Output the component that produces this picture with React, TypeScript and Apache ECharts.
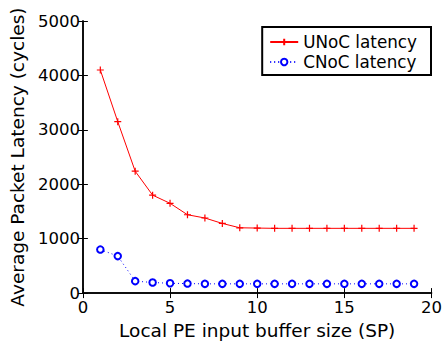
import React, { useEffect, useRef } from "react";
import * as echarts from "echarts";

const bufferSizes = [1, 2, 3, 4, 5, 6, 7, 8, 9, 10, 11, 12, 13, 14, 15, 16, 17, 18, 19];
const unocLatency = [4100, 3150, 2240, 1800, 1650, 1440, 1380, 1280, 1200, 1195, 1190, 1190, 1190, 1190, 1190, 1190, 1190, 1190, 1190];
const cnocLatency = [800, 680, 220, 195, 180, 175, 170, 170, 170, 170, 170, 170, 170, 170, 170, 170, 170, 170, 170];
const seriesNames = ["UNoC latency", "CNoC latency"];

const FONT = "'DejaVu Sans', 'Liberation Sans', Arial, sans-serif";

export default function App() {
  const ref = useRef<HTMLDivElement>(null);
  useEffect(() => {
    if (!ref.current) return;
    const chart = echarts.init(ref.current, undefined, { renderer: "svg" });
    const tickStyle = { show: true, inside: true, length: 5, lineStyle: { color: "#000", width: 1 } };
    const axisLine = { show: true, lineStyle: { color: "#000", width: 1.5 } };
    chart.setOption({
      animation: false,
      backgroundColor: "#fff",
      textStyle: { fontFamily: FONT },
      grid: { left: 82, right: 12, top: 21, bottom: 45, containLabel: false },
      legend: {
        orient: "vertical",
        right: 14,
        top: 27,
        backgroundColor: "#fff",
        borderColor: "#000",
        borderWidth: 2,
        borderRadius: 0,
        padding: [5, 14, 3, 7],
        itemGap: 0,
        itemWidth: 28,
        itemHeight: 8,
        textStyle: { fontSize: 16.8, lineHeight: 20, color: "#000", fontFamily: FONT },
        data: seriesNames,
      },
      xAxis: [
        {
          type: "value",
          min: 0,
          max: 20,
          interval: 5,
          name: "Local PE input buffer size (SP)",
          nameLocation: "middle",
          nameGap: 22,
          nameTextStyle: { fontSize: 18.5, color: "#000", fontFamily: FONT },
          axisLine,
          axisTick: tickStyle,
          axisLabel: { fontSize: 16.5, color: "#000", margin: 6, fontFamily: FONT, formatter: (v: number) => String(v) },
          splitLine: { show: false },
        },
        {
          type: "value",
          position: "top",
          min: 0,
          max: 20,
          interval: 5,
          axisLine,
          axisTick: tickStyle,
          axisLabel: { show: false },
          splitLine: { show: false },
        },
      ],
      yAxis: [
        {
          type: "value",
          min: 0,
          max: 5000,
          interval: 1000,
          name: "Average Packet Latency (cycles)",
          nameLocation: "middle",
          nameGap: 53,
          nameRotate: 90,
          nameTextStyle: { fontSize: 18.5, color: "#000", fontFamily: FONT },
          axisLine,
          axisTick: tickStyle,
          axisLabel: { fontSize: 16.5, color: "#000", margin: 3, fontFamily: FONT, formatter: (v: number) => String(v) },
          splitLine: { show: false },
        },
        {
          type: "value",
          position: "right",
          min: 0,
          max: 5000,
          interval: 1000,
          axisLine,
          axisTick: tickStyle,
          axisLabel: { show: false },
          splitLine: { show: false },
        },
      ],
      series: [
        {
          name: seriesNames[0],
          type: "line",
          data: bufferSizes.map((x, i) => [x, unocLatency[i]]),
          symbol: "path://M5,0L5,10M0,5L10,5",
          symbolSize: 7,
          showAllSymbol: true,
          lineStyle: { color: "#ff0000", width: 1 },
          itemStyle: { color: "none", borderColor: "#ff0000", borderWidth: 1.2 },
          z: 3,
        },
        {
          name: seriesNames[1],
          type: "line",
          data: bufferSizes.map((x, i) => [x, cnocLatency[i]]),
          symbol: "emptyCircle",
          symbolSize: 6.5,
          showAllSymbol: true,
          lineStyle: { color: "#0000ff", width: 1, type: [1, 3] },
          itemStyle: { color: "#0000ff", borderColor: "#0000ff", borderWidth: 1 },
          z: 3,
        },
      ],
    });
    return () => chart.dispose();
  }, []);
  return <div ref={ref} style={{ position: "fixed", left: 0, top: 0, width: 445, height: 345 }} />;
}
